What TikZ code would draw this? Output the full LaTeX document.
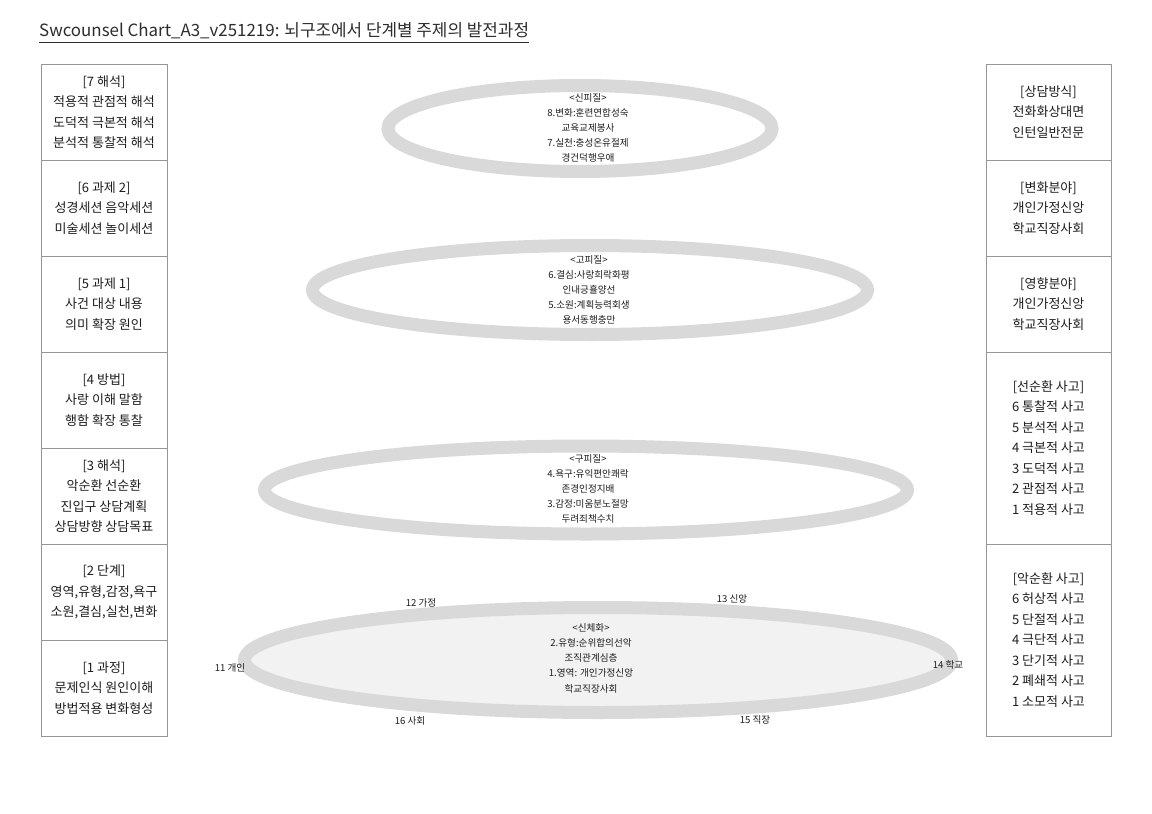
\documentclass[tikz,border=0pt]{standalone}
\usepackage{fontspec}
\setmainfont{Noto Sans CJK KR}
\usetikzlibrary{shapes.geometric}
\definecolor{boxline}{RGB}{150,150,150}
\definecolor{ringc}{RGB}{217,217,217}
\definecolor{ringfill}{RGB}{242,242,242}
\definecolor{textc}{RGB}{30,30,30}
\definecolor{titlec}{RGB}{45,45,45}
\newcommand{\cellfont}{\fontsize{13}{20.5}\selectfont}
\newcommand{\ringfont}{\fontsize{9.6}{15.2}\selectfont}
\newcommand{\headfont}{\fontsize{16.9}{20}\selectfont}
\begin{document}
\begin{tikzpicture}[x=1pt,y=-1pt,
  cellbox/.style={draw=boxline, line width=0.8pt, minimum width=126pt, minimum height=96pt, inner sep=0pt, align=center, font=\cellfont, text=textc},
  tallbox/.style={cellbox, minimum height=192pt},
  ring/.style={ellipse, draw=ringc, line width=13pt, inner sep=0pt},
  ringtext/.style={align=center, font=\ringfont, text=textc, inner sep=0pt},
  tag/.style={font=\ringfont, text=textc, inner sep=0pt}]
\fill[white] (0,0) rectangle (1152,814);
\useasboundingbox (0,0) rectangle (1152,814);

% title
\node[anchor=west, font=\headfont, text=titlec, inner sep=0pt] (title) at (39,31)
  {Swcounsel Chart\_A3\_v251219: 뇌구조에서 단계별 주제의 발전과정};
\coordinate (ulA) at (39,42);
\coordinate (ulB) at (title.east |- ulA);
\draw[titlec, line width=0.9pt] (ulA) -- (ulB);

% left column
\node[cellbox] (L7) at (104,112) {[7 해석]\\적용적 관점적 해석\\도덕적 극본적 해석\\분석적 통찰적 해석};
\node[cellbox] (L6) at (104,208) {[6 과제 2]\\성경세션 음악세션\\미술세션 놀이세션};
\node[cellbox] (L5) at (104,304) {[5 과제 1]\\사건 대상 내용\\의미 확장 원인};
\node[cellbox] (L4) at (104,400) {[4 방법]\\사랑 이해 말함\\행함 확장 통찰};
\node[cellbox] (L3) at (104,496) {[3 해석]\\악순환 선순환\\진입구 상담계획\\상담방향 상담목표};
\node[cellbox] (L2) at (104,592) {[2 단계]\\영역,유형,감정,욕구\\소원,결심,실천,변화};
\node[cellbox] (L1) at (104,688) {[1 과정]\\문제인식 원인이해\\방법적용 변화형성};

% right column
\node[cellbox, minimum width=125pt] (R1) at (1048.5,112) {[상담방식]\\전화화상대면\\인턴일반전문};
\node[cellbox, minimum width=125pt] (R2) at (1048.5,208) {[변화분야]\\개인가정신앙\\학교직장사회};
\node[cellbox, minimum width=125pt] (R3) at (1048.5,304) {[영향분야]\\개인가정신앙\\학교직장사회};
\node[tallbox, minimum width=125pt] (R4) at (1048.5,448) {[선순환 사고]\\6 통찰적 사고\\5 분석적 사고\\4 극본적 사고\\3 도덕적 사고\\2 관점적 사고\\1 적용적 사고};
\node[tallbox, minimum width=125pt] (R5) at (1048.5,640) {[악순환 사고]\\6 허상적 사고\\5 단절적 사고\\4 극단적 사고\\3 단기적 사고\\2 폐쇄적 사고\\1 소모적 사고};

% rings
\node[ring, minimum width=384pt, minimum height=86pt] (E1) at (580,128.5) {};
\node[ring, minimum width=555pt, minimum height=89pt] (E2) at (590,290) {};
\node[ring, minimum width=643pt, minimum height=88pt] (E3) at (586,490) {};
\node[ring, fill=ringfill, minimum width=707pt, minimum height=105pt] (E4) at (598,660) {};

\node[ringtext] (T1) at (588,128) {<신피질>\\8.변화:훈련연합성숙\\교육교제봉사\\7.실천:충성온유절제\\경건덕행우애};
\node[ringtext] (T2) at (589,290) {<고피질>\\6.결심:사랑희락화평\\인내긍휼양선\\5.소원:계획능력회생\\용서동행충만};
\node[ringtext] (T3) at (588,489) {<구피질>\\4.욕구:유익편안쾌락\\존경인정지배\\3.감정:미움분노절망\\두려죄책수치};
\node[ringtext] (T4) at (591,658) {<신체화>\\2.유형:순위합의선악\\조직관계심층\\1.영역: 개인가정신앙\\학교직장사회};

% labels around the base ring
\node[tag] (G11) at (230,668) {11 개인};
\node[tag] (G12) at (421,603) {12 가정};
\node[tag] (G13) at (732,599) {13 신앙};
\node[tag] (G14) at (948,665) {14 학교};
\node[tag] (G15) at (755,720) {15 직장};
\node[tag] (G16) at (410,721) {16 사회};
\end{tikzpicture}
\end{document}
